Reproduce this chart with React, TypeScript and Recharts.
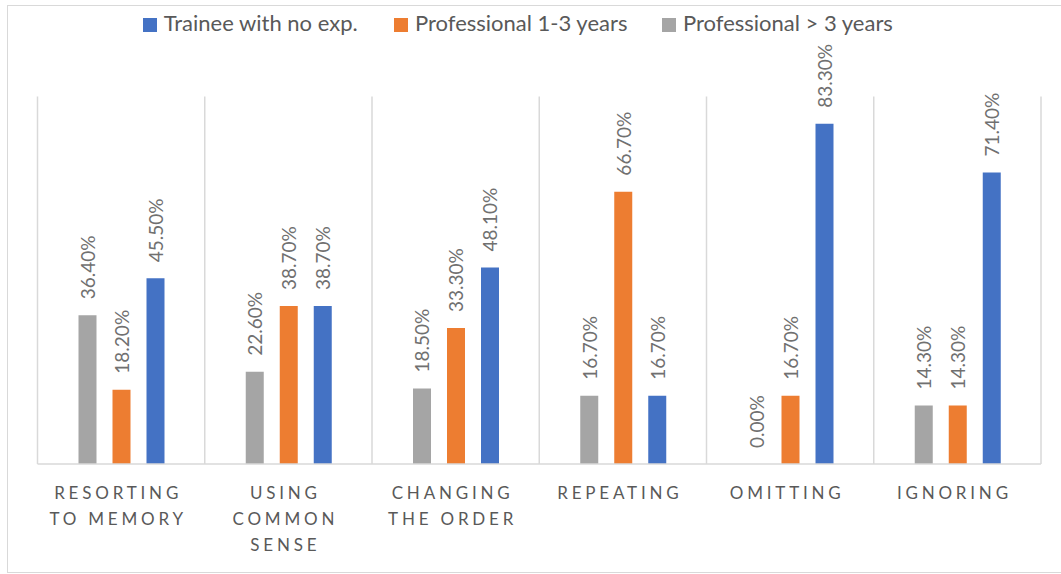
import React from 'react';
import { BarChart, Bar, XAxis, YAxis, CartesianGrid, Legend } from 'recharts';

const categories = [
  'Resorting to memory',
  'Using common sense',
  'Changing the order',
  'Repeating',
  'Omitting',
  'Ignoring',
];
const tickLines = [
  ['RESORTING', 'TO MEMORY'],
  ['USING', 'COMMON', 'SENSE'],
  ['CHANGING', 'THE ORDER'],
  ['REPEATING'],
  ['OMITTING'],
  ['IGNORING'],
];
const trainee = [45.5, 38.7, 48.1, 16.7, 83.3, 71.4];
const pro13 = [18.2, 38.7, 33.3, 66.7, 16.7, 14.3];
const pro3 = [36.4, 22.6, 18.5, 16.7, 0.0, 14.3];

const seriesNames = ['Trainee with no exp.', 'Professional 1-3 years', 'Professional > 3 years'];
const seriesColors = ['#4472C4', '#ED7D31', '#A5A5A5'];

const data = categories.map((c, i) => ({
  name: c,
  trainee: trainee[i],
  pro13: pro13[i],
  pro3: pro3[i],
}));

const FONT = 'Lato, sans-serif';
const TEXT = '#595959';
const LABEL_TEXT = '#707070';
const GRID = '#D9D9D9';

const CategoryTick = (props: any) => {
  const { x, y, index } = props;
  const lines = tickLines[index] || [];
  return (
    <g transform={`translate(${x},${y})`}>
      {lines.map((l, i) => (
        <text
          key={i}
          x={-3}
          y={35 + i * 26}
          textAnchor="middle"
          fill={TEXT}
          fontFamily={FONT}
          fontSize={17}
          style={{ letterSpacing: '3.8px' }}
        >
          {l}
        </text>
      ))}
    </g>
  );
};

const renderValueLabel = (props: any) => {
  const { x, y, width, value } = props;
  const cx = Number(x) + Number(width) / 2;
  const ty = Number(y) - 16;
  return (
    <text
      x={cx}
      y={ty}
      transform={`rotate(-90 ${cx} ${ty})`}
      textAnchor="start"
      dominantBaseline="central"
      fill={LABEL_TEXT}
      fontFamily={FONT}
      fontSize={19}
    >
      {`${Number(value).toFixed(2)}%`}
    </text>
  );
};

const itemLefts = [142.7, 394, 662];

const LegendContent = () => (
  <div style={{ position: 'relative', width: 1061, height: 30, fontFamily: FONT }}>
    {seriesNames.map((n, i) => (
      <div key={n} style={{ position: 'absolute', left: itemLefts[i], top: 0, height: 30 }}>
        <div
          style={{
            position: 'absolute',
            left: 0,
            top: 9.5,
            width: 14,
            height: 14,
            background: seriesColors[i],
          }}
        />
        <div
          style={{
            position: 'absolute',
            left: 21,
            top: 0,
            whiteSpace: 'nowrap',
            fontSize: 22,
            lineHeight: '30px',
            color: TEXT,
          }}
        >
          {n}
        </div>
      </div>
    ))}
  </div>
);

const boundaryGenerator = (props: any) => {
  const { offset } = props;
  const n = categories.length;
  const out: number[] = [];
  for (let i = 0; i <= n; i++) out.push(offset.left + (i * offset.width) / n);
  return out;
};

export default function App() {
  return (
    <div style={{ position: 'absolute', left: 0, top: 0, width: 1061, height: 574, background: '#fff' }}>
      <div
        style={{
          position: 'absolute',
          left: 7,
          top: 5,
          width: 1060,
          height: 568,
          boxSizing: 'border-box',
          border: `1px solid ${GRID}`,
        }}
      />
      <div style={{ position: 'absolute', left: 0, top: 0 }}>
        <BarChart
          width={1061}
          height={574}
          data={data}
          margin={{ top: 66.5, right: 20, left: 37.5, bottom: 50 }}
          barSize={18}
          barGap={16}
        >
          <CartesianGrid
            horizontal={false}
            vertical={true}
            stroke={GRID}
            strokeWidth={1.5}
            verticalCoordinatesGenerator={boundaryGenerator}
          />
          <XAxis
            dataKey="name"
            height={60}
            axisLine={{ stroke: GRID, strokeWidth: 1.5 }}
            tickLine={false}
            tickSize={0}
            tickMargin={0}
            interval={0}
            tick={<CategoryTick />}
          />
          <YAxis hide domain={[0, 90]} />
          <Legend
            verticalAlign="top"
            align="left"
            content={<LegendContent />}
            wrapperStyle={{ top: 8.2, left: 0, width: 1061, height: 30, margin: 0, padding: 0 }}
          />
          <Bar
            dataKey="pro3"
            name={seriesNames[2]}
            fill={seriesColors[2]}
            isAnimationActive={false}
            minPointSize={0.01}
            label={renderValueLabel}
          />
          <Bar
            dataKey="pro13"
            name={seriesNames[1]}
            fill={seriesColors[1]}
            isAnimationActive={false}
            label={renderValueLabel}
          />
          <Bar
            dataKey="trainee"
            name={seriesNames[0]}
            fill={seriesColors[0]}
            isAnimationActive={false}
            label={renderValueLabel}
          />
        </BarChart>
      </div>
    </div>
  );
}
